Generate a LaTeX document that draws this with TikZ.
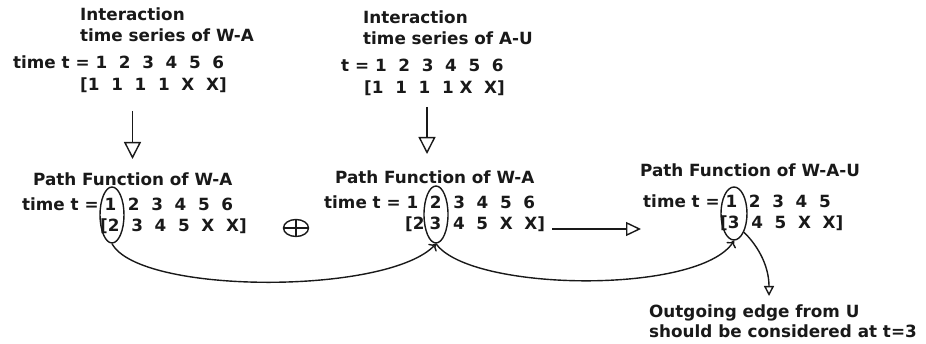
\documentclass[tikz,border=0pt]{standalone}
\usepackage{fontspec}
\setmainfont{DejaVu Sans}
\usetikzlibrary{arrows.meta,shapes.geometric}
\colorlet{ink}{black!90}
\tikzset{
  txt/.style={anchor=base west, inner sep=0pt, text=ink,
    font=\fontsize{16.8}{20}\selectfont\bfseries},
  ring/.style={draw=ink, line width=1.4pt, ellipse, inner sep=0pt},
  link/.style={draw=ink, line width=1.4pt},
  bigtip/.style={-{Triangle[open, length=17pt, width=17pt, line width=1.4pt]}},
  sidetip/.style={-{Triangle[open, length=15pt, width=14pt, line width=1.4pt]}},
  smalltip/.style={-{Triangle[open, length=10pt, width=10pt, line width=1.4pt]}},
  curvetip/.style={-{To[length=6pt, width=11pt, line width=1.4pt]}}
}
\newcommand{\gap}{\ \ }
\begin{document}
\begin{tikzpicture}[x=1pt, y=-1pt]
\useasboundingbox (0,0) rectangle (926,344);

% interaction series of W-A
\node[txt] (wa1) at (80,21) {Interaction};
\node[txt] (wa2) at (80,42) {time series of W-A};
\node[txt] (wa3) at (13,69) {time t = 1\gap 2\gap 3\gap 4\gap 5\gap 6};
\node[txt] (wa4) at (80,91) {[1\gap 1\gap 1\gap 1\gap X\gap X]};

% interaction series of A-U
\node[txt] (au1) at (363,24) {Interaction};
\node[txt] (au2) at (363,45) {time series of A-U};
\node[txt] (au3) at (341,72) {t = 1\gap 2\gap 3\gap 4\gap 5\gap 6};
\node[txt] (au4) at (364,94) {[1\gap 1\gap 1\gap 1 X\gap X]};

% path function of W-A (left)
\node[txt] (pf1) at (33,186) {Path Function of W-A};
\node[txt] (pf2) at (22,211) {time t = 1\gap 2\gap 3\gap 4\gap 5\gap 6};
\node[txt] (pf3) at (100,232) {[2\gap 3\gap 4\gap 5\gap X\gap X]};

% path function of W-A (middle)
\node[txt] (pm1) at (335,184) {Path Function of W-A};
\node[txt] (pm2) at (324,209) {time t = 1\gap 2\gap 3\gap 4\gap 5\gap 6};
\node[txt] (pm3) at (405,230) {[2\hspace{0.3em}3\gap 4\gap 5\gap X\gap X]};

% path function of W-A-U
\node[txt] (pr1) at (640,177) {Path Function of W-A-U};
\node[txt] (pr2) at (643,208) {time t = 1\gap 2\gap 3\gap 4\gap 5};
\node[txt] (pr3) at (720,229) {[3\gap 4\gap 5\gap X\gap X]};

% note
\node[txt] (n1) at (649,318) {Outgoing edge from U};
\node[txt] (n2) at (649,338) {should be considered at t=3};

% highlighted columns
\node[ring, minimum width=24pt, minimum height=56pt] (e1) at (112,215) {};
\node[ring, minimum width=24pt, minimum height=57pt] (e2) at (436,214.5) {};
\node[ring, minimum width=26pt, minimum height=53pt] (e3) at (734,213.5) {};

% combination symbol
\draw[link] (296,228) ellipse (12.5 and 8.5);
\draw[link] (283.5,228) -- (308.5,228) (296,219.5) -- (296,236.5);

% vertical arrows
\coordinate (v1a) at (132.5,111);
\coordinate (v1b) at (132.5,159);
\coordinate (v2a) at (427,107);
\coordinate (v2b) at (427,154);
\draw[link, bigtip] (v1a) -- (v1b);
\draw[link, bigtip] (v2a) -- (v2b);

% horizontal arrow
\coordinate (h1a) at (552,229);
\coordinate (h1b) at (641,229);
\draw[link, sidetip] (h1a) -- (h1b);

% column links
\draw[link, curvetip] (e1.south) .. controls (140,295) and (390,295) .. (e2.south);
\draw[link, curvetip] (e2.south) .. controls (470,292) and (700,295) .. (e3.south);
\coordinate (out) at (769,296);
\draw[link, smalltip] (e3.-62) .. controls (760,248) and (769,268) .. (out);
\end{tikzpicture}
\end{document}
